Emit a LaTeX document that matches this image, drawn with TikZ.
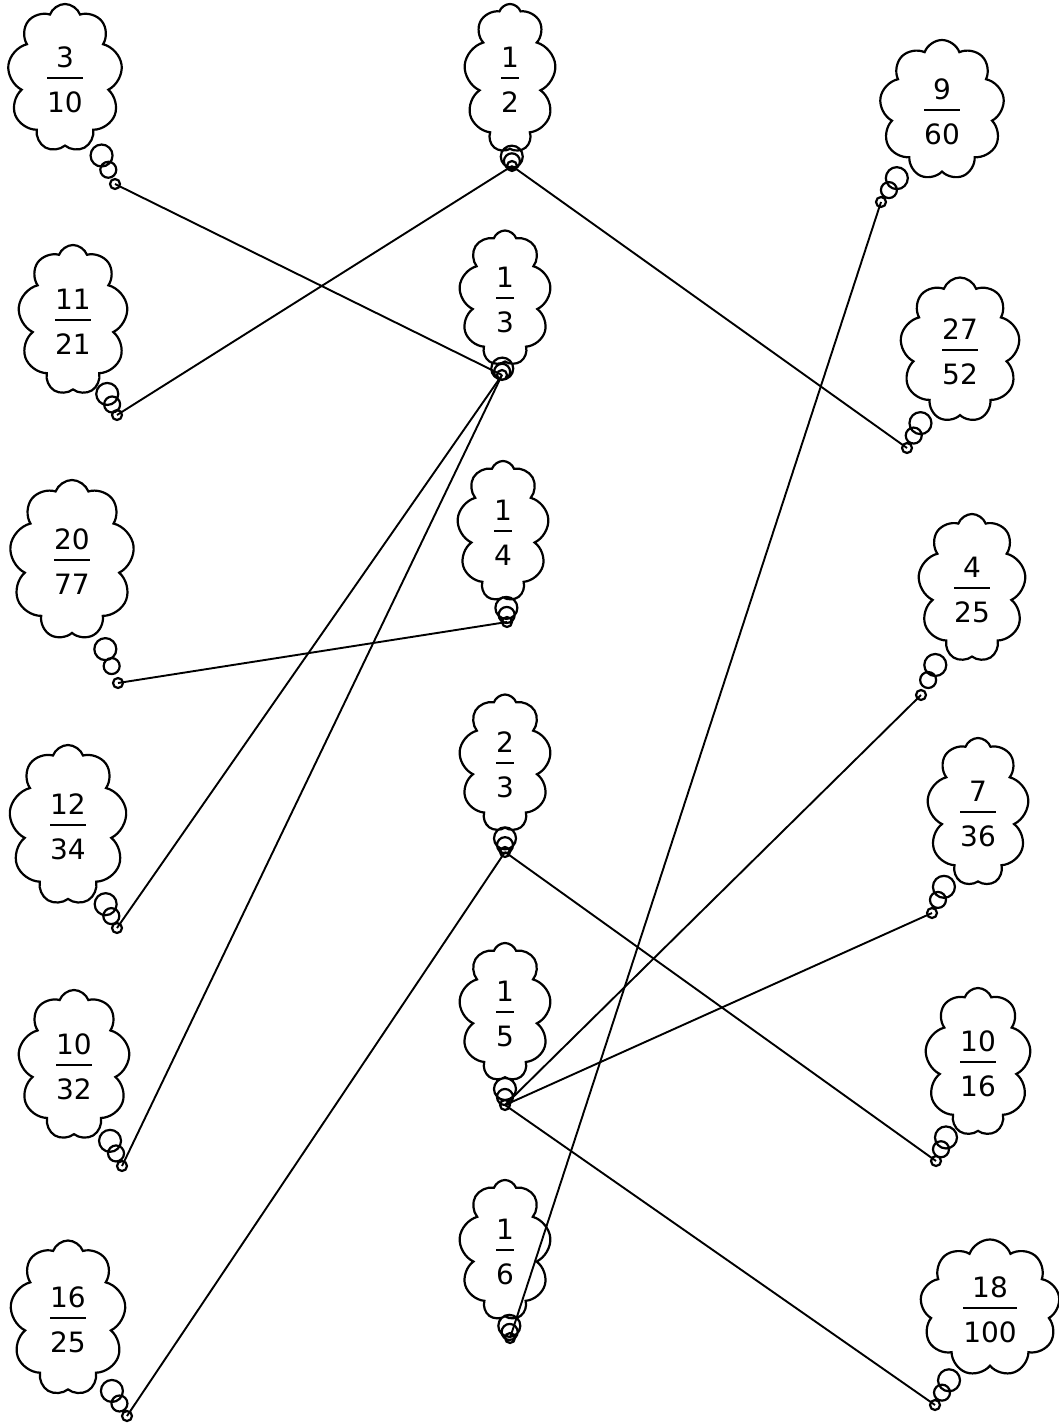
\documentclass[tikz,border=0pt]{standalone}
\usepackage{fontspec}
\setmainfont{DejaVu Sans}
\usetikzlibrary{shapes.symbols,shapes.callouts}
\definecolor{bubbleLine}{HTML}{000000}
\newcommand{\frc}[2]{{\fontsize{28}{33.6}\selectfont
  \begin{tabular}{@{\kern1pt}c@{\kern1pt}}
    \rule{0pt}{33.5pt}#1\\[-20.35pt]
    \leaders\hrule height 3.2pt depth -1.2pt\hfill\kern0pt\\[-1.45pt]
    #2
  \end{tabular}}}

\begin{document}
\begin{tikzpicture}[
  x=1pt, y=-1pt,
  bubble/.style={
    cloud callout,
    draw=bubbleLine,
    line width=2.2pt,
    cloud puffs=9,
    cloud puff arc=140,
    cloud ignores aspect,
    callout pointer segments=3,
    callout pointer start size=22pt and 28pt,
    callout pointer end size=8pt and 10pt,
    inner sep=0pt
  },
  link/.style={draw=bubbleLine, line width=1.9pt}
]
\useasboundingbox (0,0) rectangle (1059,1424);

% Tail tips, where the matching lines meet the bubbles.
\coordinate (t3-10) at (115,184);
\coordinate (t11-21) at (117,415);
\coordinate (t20-77) at (118,683);
\coordinate (t12-34) at (117,928);
\coordinate (t10-32) at (122,1166);
\coordinate (t16-25) at (127,1416);
\coordinate (t1-2) at (512,166);
\coordinate (t1-3) at (502,375);
\coordinate (t1-4) at (507,622);
\coordinate (t2-3) at (505,852);
\coordinate (t1-5) at (505,1105);
\coordinate (t1-6) at (510,1338);
\coordinate (t9-60) at (881,202);
\coordinate (t27-52) at (907,448);
\coordinate (t4-25) at (921,695);
\coordinate (t7-36) at (932,913);
\coordinate (t10-16) at (936,1161);
\coordinate (t18-100) at (935,1405);

% Left column.
\node[bubble, minimum width=115pt, minimum height=148pt,
      callout absolute pointer={(t3-10)}] (l3-10) at (65,78) {\frc{3}{10}};
\node[bubble, minimum width=110pt, minimum height=150pt,
      callout absolute pointer={(t11-21)}] (l11-21) at (73,320) {\frc{11}{21}};
\node[bubble, minimum width=125pt, minimum height=160pt,
      callout absolute pointer={(t20-77)}] (l20-77) at (72,560) {\frc{20}{77}};
\node[bubble, minimum width=118pt, minimum height=160pt,
      callout absolute pointer={(t12-34)}] (l12-34) at (68,825) {\frc{12}{34}};
\node[bubble, minimum width=112pt, minimum height=150pt,
      callout absolute pointer={(t10-32)}] (l10-32) at (74,1065) {\frc{10}{32}};
\node[bubble, minimum width=116pt, minimum height=155pt,
      callout absolute pointer={(t16-25)}] (l16-25) at (68,1318) {\frc{16}{25}};

% Middle column, the unit fractions.
\node[bubble, minimum width=92pt, minimum height=148pt,
      callout absolute pointer={(t1-2)}] (m1-2) at (510,78) {\frc{1}{2}};
\node[bubble, minimum width=92pt, minimum height=135pt,
      callout absolute pointer={(t1-3)}] (m1-3) at (505,298) {\frc{1}{3}};
\node[bubble, minimum width=92pt, minimum height=140pt,
      callout absolute pointer={(t1-4)}] (m1-4) at (503,531) {\frc{1}{4}};
\node[bubble, minimum width=92pt, minimum height=137pt,
      callout absolute pointer={(t2-3)}] (m2-3) at (505,763) {\frc{2}{3}};
\node[bubble, minimum width=92pt, minimum height=138pt,
      callout absolute pointer={(t1-5)}] (m1-5) at (505,1012) {\frc{1}{5}};
\node[bubble, minimum width=92pt, minimum height=140pt,
      callout absolute pointer={(t1-6)}] (m1-6) at (505,1250) {\frc{1}{6}};

% Right column.
\node[bubble, minimum width=125pt, minimum height=140pt,
      callout absolute pointer={(t9-60)}] (r9-60) at (942,110) {\frc{9}{60}};
\node[bubble, minimum width=120pt, minimum height=145pt,
      callout absolute pointer={(t27-52)}] (r27-52) at (960,350) {\frc{27}{52}};
\node[bubble, minimum width=108pt, minimum height=148pt,
      callout absolute pointer={(t4-25)}] (r4-25) at (972,588) {\frc{4}{25}};
\node[bubble, minimum width=102pt, minimum height=148pt,
      callout absolute pointer={(t7-36)}] (r7-36) at (978,812) {\frc{7}{36}};
\node[bubble, minimum width=106pt, minimum height=148pt,
      callout absolute pointer={(t10-16)}] (r10-16) at (978,1062) {\frc{10}{16}};
\node[bubble, minimum width=140pt, minimum height=130pt,
      callout absolute pointer={(t18-100)}] (r18-100) at (990,1308) {\frc{18}{100}};

% Matching lines between the bubble tails.
\draw[link] (t3-10) -- (t1-3);
\draw[link] (t11-21) -- (t1-2);
\draw[link] (t1-2) -- (t27-52);
\draw[link] (t9-60) -- (t1-6);
\draw[link] (t1-3) -- (t12-34);
\draw[link] (t1-3) -- (t10-32);
\draw[link] (t1-4) -- (t20-77);
\draw[link] (t2-3) -- (t10-16);
\draw[link] (t2-3) -- (t16-25);
\draw[link] (t1-5) -- (t4-25);
\draw[link] (t1-5) -- (t7-36);
\draw[link] (t1-5) -- (t18-100);

\end{tikzpicture}
\end{document}
